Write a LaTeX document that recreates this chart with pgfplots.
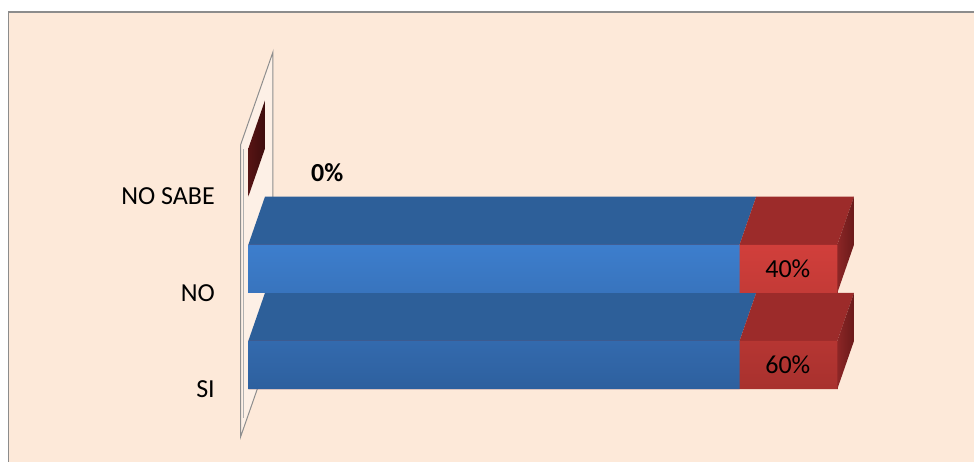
\documentclass[border=0pt]{standalone}
\usepackage{pgfplots}
\pgfplotsset{compat=1.18}
\usepackage{fontspec}
\setmainfont{Carlito}
\definecolor{bgpeach}{HTML}{FDE9D9}
\definecolor{framegray}{HTML}{8C8C8C}
\definecolor{wallgray}{HTML}{8E8E8E}
\definecolor{wallfill}{HTML}{FDF0E6}
\definecolor{bluefronttop}{HTML}{3D7ECD}
\definecolor{bluefrontbot}{HTML}{2E609E}
\definecolor{bluetopface}{HTML}{2D5F99}
\definecolor{redfronttop}{HTML}{D13F3B}
\definecolor{redfrontbot}{HTML}{A8312E}
\definecolor{redtopface}{HTML}{9C2B2A}
\definecolor{redsidetop}{HTML}{8C2626}
\definecolor{redsidebot}{HTML}{6A1A1A}
\definecolor{zerored}{HTML}{571414}
\definecolor{zeroredd}{HTML}{3E0D0D}
\begin{document}
\begin{tikzpicture}
% chart area background and frame (axis sits at the origin, 974bp x 462bp)
\fill[white] (0,0) rectangle (974bp,462bp);
\fill[bgpeach] (8.5bp,0) rectangle (974bp,450bp);
\draw[framegray, line width=1.6bp] (8.5bp,0) -- (8.5bp,450bp) -- (974bp,450bp);
\begin{axis}[
  at={(0,0)}, anchor=south west,
  scale only axis, width=974bp, height=462bp,
  xmin=-42.16, xmax=123.21, ymin=-1.008, ymax=3.794,
  axis line style={draw=none}, tick style={draw=none},
  xtick=\empty,
  ytick={-0.25,0.75,1.75}, yticklabels={SI,NO,NO SABE},
  yticklabel style={font=\fontsize{26bp}{30bp}\selectfont, anchor=east, inner sep=0pt, xshift=215bp, text=black},
  clip=false,
]
% side wall
\addplot[fill=wallfill, draw=wallgray, line width=1bp] coordinates {(-1.32,-0.748) (-1.32,2.287) (4.19,3.254) (4.19,0.218)} -- cycle;
\addplot[draw=wallgray!70, line width=0.8bp] coordinates {(-0.85,-0.55) (-0.85,2.25)};

% NO SABE: zero-length bar, only its end face shows on the wall
\addplot[draw=none, left color=zerored, right color=zeroredd] coordinates {(0,1.75) (0,2.25) (2.83,2.75) (2.83,2.25)} -- cycle;

% ---- NO bar (y = 1): top faces and side face
\addplot[fill=bluetopface, draw=none] coordinates {(0,1.25) (83.4,1.25) (86.23,1.75) (2.83,1.75)} -- cycle;
\addplot[fill=redtopface, draw=none] coordinates {(83.4,1.25) (100,1.25) (102.83,1.75) (86.23,1.75)} -- cycle;
\addplot[draw=none, left color=redsidetop, right color=redsidebot] coordinates {(100,0.75) (100,1.25) (102.83,1.75) (102.83,1.25)} -- cycle;

% ---- SI bar (y = 0): top faces and side face
\addplot[fill=bluetopface, draw=none] coordinates {(0,0.25) (83.4,0.25) (86.23,0.75) (2.83,0.75)} -- cycle;
\addplot[fill=redtopface, draw=none] coordinates {(83.4,0.25) (100,0.25) (102.83,0.75) (86.23,0.75)} -- cycle;
\addplot[draw=none, left color=redsidetop, right color=redsidebot] coordinates {(100,-0.25) (100,0.25) (102.83,0.75) (102.83,0.25)} -- cycle;

% front faces (red segment = 83.4 .. 100, blue = 0 .. 83.4)
\addplot[xbar, bar width=0.5, bar shift=0pt, draw=none, top color=redfronttop, bottom color=redfrontbot] coordinates {(100,0) (100,1)};
\addplot[xbar, bar width=0.5, bar shift=0pt, draw=none, top color=bluefronttop, bottom color=bluefrontbot] coordinates {(83.4,0) (83.4,1)};

% value labels
\addplot[draw=none, mark=none, nodes near coords, point meta=explicit symbolic,
  nodes near coords align={center},
  every node near coord/.style={font=\fontsize{26bp}{30bp}\selectfont, anchor=center, text=black}]
  coordinates {(91.6,0) [60\%] (91.6,1) [40\%]};
\addplot[draw=none, mark=none, nodes near coords, point meta=explicit symbolic,
  nodes near coords align={center},
  every node near coord/.style={font=\fontsize{26bp}{30bp}\selectfont\bfseries, anchor=center, text=black}]
  coordinates {(13.4,2) [0\%]};
\end{axis}
\pgfresetboundingbox
\path (0,0) rectangle (974bp,462bp);
\end{tikzpicture}
\end{document}
